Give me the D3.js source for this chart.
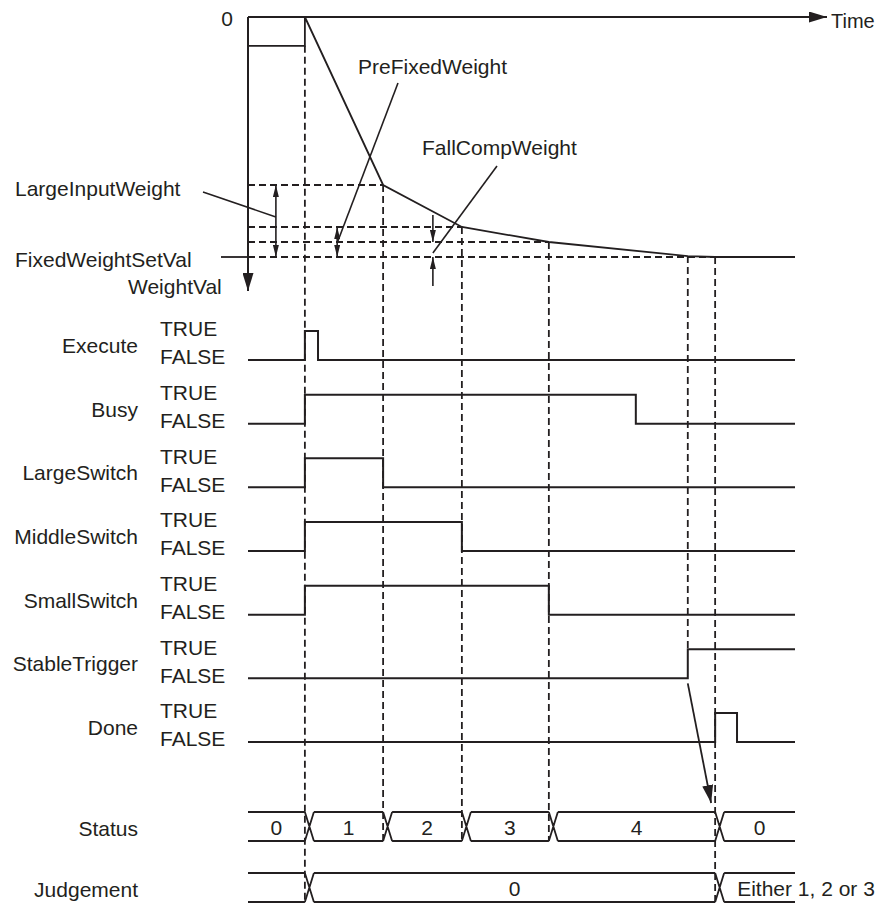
<!DOCTYPE html>
<html>
<head>
<meta charset="utf-8">
<script src="https://cdn.jsdelivr.net/npm/d3@7"></script>
<style>
  body { margin: 0; background: #fff; }
  svg text { font-family: "Liberation Sans", Arial, sans-serif; font-size: 21px; fill: #231f20; }
</style>
</head>
<body>
<div id="chart"></div>
<script>
// weight curve (time in arbitrary units 0..100, weight as % of FixedWeightSetVal)
var initialWeight = 12;
var weightT = [10.4, 24.7, 39.1, 55.0, 80.4, 85.4, 100];
var weightV = [0, 70, 87.5, 93.75, 99.6, 100, 100];

// horizontal guide levels: LargeInputWeight, PreFixedWeight, FallCompWeight, FixedWeightSetVal
var levelV = [70, 87.5, 93.75, 100];
var levelEndT = [24.7, 39.1, 55.0, 85.4];

// vertical guides
var guideT = [10.4, 24.7, 39.1, 55.0, 80.4, 85.4];
var guideW = [initialWeight, 70, 87.5, 93.75, 99.6, 100];
var guideEnd = ["Judgement", "Status", "Status", "Status", "StableTrigger", "Judgement"];

// bit signals, all start FALSE, toggles at given times
var signalNames = ["Execute", "Busy", "LargeSwitch", "MiddleSwitch", "SmallSwitch", "StableTrigger", "Done"];
var signalToggles = [[10.4, 12.8], [10.4, 70.9], [10.4, 24.7], [10.4, 39.1], [10.4, 55.0], [80.4], [85.4, 89.4]];

// bus values
var busNames = ["Status", "Judgement"];
var statusEdges = [10.4, 24.7, 39.1, 55.0, 85.4];
var statusValues = ["0", "1", "2", "3", "4", "0"];
var judgeEdges = [10.4, 85.4];
var judgeValues = ["", "0", "Either 1, 2 or 3"];

var width = 877, height = 905;
var ink = "#231f20";

var svg = d3.select("#chart").append("svg")
  .attr("width", width)
  .attr("height", height);

var x = d3.scaleLinear().domain([0, 100]).range([248, 795]);
var w = d3.scaleLinear().domain([0, 100]).range([17, 257]);
var rowLow = d3.scalePoint().domain(signalNames).range([360, 742]);
var busTop = d3.scalePoint().domain(busNames).range([812, 873]);
var hi = 29, busH = 29, crossW = 9;

function rowBottom(name) {
  if (busNames.indexOf(name) >= 0) return busTop(name) + busH;
  return rowLow(name) - hi;
}

var defs = svg.append("defs");
function marker(id, len, half) {
  defs.append("marker")
    .attr("id", id)
    .attr("markerUnits", "userSpaceOnUse")
    .attr("viewBox", "0 0 " + len + " " + (half * 2))
    .attr("refX", len).attr("refY", half)
    .attr("markerWidth", len).attr("markerHeight", half * 2)
    .attr("orient", "auto-start-reverse")
    .append("path")
    .attr("d", "M0,0L" + len + "," + half + "L0," + (half * 2) + "Z")
    .attr("fill", ink);
}
marker("big", 18, 5.5);
marker("small", 12, 3);

// dashed guides first, so solid lines sit on top
var dash = svg.append("g")
  .attr("stroke", ink).attr("stroke-width", 1.8)
  .attr("stroke-dasharray", "7,4").attr("fill", "none");

levelV.forEach(function(v, i) {
  dash.append("line")
    .attr("x1", x(0)).attr("x2", x(levelEndT[i]))
    .attr("y1", w(v)).attr("y2", w(v));
});
guideT.forEach(function(t, i) {
  dash.append("line")
    .attr("x1", x(t)).attr("x2", x(t))
    .attr("y1", w(guideW[i])).attr("y2", rowBottom(guideEnd[i]));
});

// axes
svg.append("line")
  .attr("x1", x(0)).attr("x2", 827)
  .attr("y1", w(0)).attr("y2", w(0))
  .attr("stroke", ink).attr("stroke-width", 2)
  .attr("marker-end", "url(#big)");
svg.append("line")
  .attr("x1", x(0)).attr("x2", x(0))
  .attr("y1", w(0)).attr("y2", 291)
  .attr("stroke", ink).attr("stroke-width", 2)
  .attr("marker-end", "url(#big)");
svg.append("text").attr("x", 227).attr("y", 19).attr("dy", ".35em")
  .attr("text-anchor", "middle").text("0");
svg.append("text").attr("x", 831).attr("y", 21).attr("dy", ".35em")
  .style("font-size", "20px").text("Time");
svg.append("text").attr("x", 128).attr("y", 287).attr("dy", ".35em").text("WeightVal");

// weight curve
var wPts = [[0, initialWeight], [weightT[0], initialWeight]].concat(weightT.map(function(t, i) { return [t, weightV[i]]; }));
svg.append("path")
  .attr("d", d3.line().x(function(d) { return x(d[0]); }).y(function(d) { return w(d[1]); })(wPts))
  .attr("fill", "none").attr("stroke", ink).attr("stroke-width", 1.8);

// FixedWeightSetVal stub
svg.append("line")
  .attr("x1", 221).attr("x2", x(0))
  .attr("y1", w(100)).attr("y2", w(100))
  .attr("stroke", ink).attr("stroke-width", 1.8);
svg.append("text").attr("x", 15).attr("y", 260).attr("dy", ".35em").text("FixedWeightSetVal");

// LargeInputWeight dimension
var ann = svg.append("g").attr("stroke", ink).attr("stroke-width", 1.6).attr("fill", "none");
var tLarge = 5.1, tPre = 16.3, tFall = 33.8;
ann.append("line")
  .attr("x1", x(tLarge)).attr("x2", x(tLarge))
  .attr("y1", w(levelV[0])).attr("y2", w(levelV[3]))
  .attr("marker-start", "url(#small)").attr("marker-end", "url(#small)");
ann.append("line").attr("x1", 203).attr("y1", 192).attr("x2", x(tLarge)).attr("y2", 217);
svg.append("text").attr("x", 15).attr("y", 189).attr("dy", ".35em").text("LargeInputWeight");

// PreFixedWeight dimension
ann.append("line")
  .attr("x1", x(tPre)).attr("x2", x(tPre))
  .attr("y1", w(levelV[1])).attr("y2", w(levelV[3]))
  .attr("marker-start", "url(#small)").attr("marker-end", "url(#small)");
ann.append("line").attr("x1", 398).attr("y1", 83).attr("x2", x(tPre)).attr("y2", 243);
svg.append("text").attr("x", 358).attr("y", 67).attr("dy", ".35em").text("PreFixedWeight");

// FallCompWeight dimension (arrows pointing inward from outside)
ann.append("line")
  .attr("x1", x(tFall)).attr("x2", x(tFall))
  .attr("y1", 215).attr("y2", w(levelV[2]))
  .attr("marker-end", "url(#small)");
ann.append("line")
  .attr("x1", x(tFall)).attr("x2", x(tFall))
  .attr("y1", 286).attr("y2", w(levelV[3]))
  .attr("marker-end", "url(#small)");
ann.append("line").attr("x1", 497).attr("y1", 166).attr("x2", x(tFall)).attr("y2", 253);
svg.append("text").attr("x", 422).attr("y", 148).attr("dy", ".35em").text("FallCompWeight");

// bit signals
var sig = svg.append("g");
signalNames.forEach(function(name, i) {
  var low = rowLow(name), high = low - hi;
  var cur = low;
  var p = d3.path();
  p.moveTo(x(0), cur);
  signalToggles[i].forEach(function(t) {
    p.lineTo(x(t), cur);
    cur = cur === low ? high : low;
    p.lineTo(x(t), cur);
  });
  p.lineTo(x(100), cur);
  sig.append("path").attr("d", p.toString())
    .attr("fill", "none").attr("stroke", ink).attr("stroke-width", 2);
  sig.append("text").attr("x", 138).attr("y", (low + high) / 2).attr("dy", ".35em")
    .attr("text-anchor", "end").text(name);
  sig.append("text").attr("x", 160).attr("y", high - 2).attr("dy", ".35em").text("TRUE");
  sig.append("text").attr("x", 160).attr("y", low - 3).attr("dy", ".35em").text("FALSE");
});

// StableTrigger -> Status arrow
svg.append("line")
  .attr("x1", x(80.4)).attr("y1", rowLow("StableTrigger") + 5)
  .attr("x2", x(85.4) - 4).attr("y2", 803)
  .attr("stroke", ink).attr("stroke-width", 1.8)
  .attr("marker-end", "url(#big)");

// bus rows
function drawBus(name, edges, values, lastLeft) {
  var top = busTop(name), bot = top + busH;
  var g = svg.append("g");
  var xs = [x(0)].concat(edges.map(x));
  var p = d3.path();
  values.forEach(function(v, i) {
    var s = i === 0 ? xs[0] : xs[i] + crossW;
    var e = i < edges.length ? xs[i + 1] : x(100);
    p.moveTo(s, top); p.lineTo(e, top);
    p.moveTo(s, bot); p.lineTo(e, bot);
    if (i < edges.length) {
      p.moveTo(e, top); p.lineTo(e + crossW, bot);
      p.moveTo(e, bot); p.lineTo(e + crossW, top);
    }
    var t = g.append("text").attr("y", (top + bot) / 2 + 1).attr("dy", ".35em").text(v);
    if (lastLeft && i === values.length - 1) {
      t.attr("x", s + 13);
    } else {
      t.attr("x", (s + e) / 2).attr("text-anchor", "middle");
    }
  });
  g.append("path").attr("d", p.toString())
    .attr("fill", "none").attr("stroke", ink).attr("stroke-width", 1.8);
  g.append("text").attr("x", 138).attr("y", (top + bot) / 2 + 2).attr("dy", ".35em")
    .attr("text-anchor", "end").text(name);
}
drawBus("Status", statusEdges, statusValues, false);
drawBus("Judgement", judgeEdges, judgeValues, true);
</script>
</body>
</html>
